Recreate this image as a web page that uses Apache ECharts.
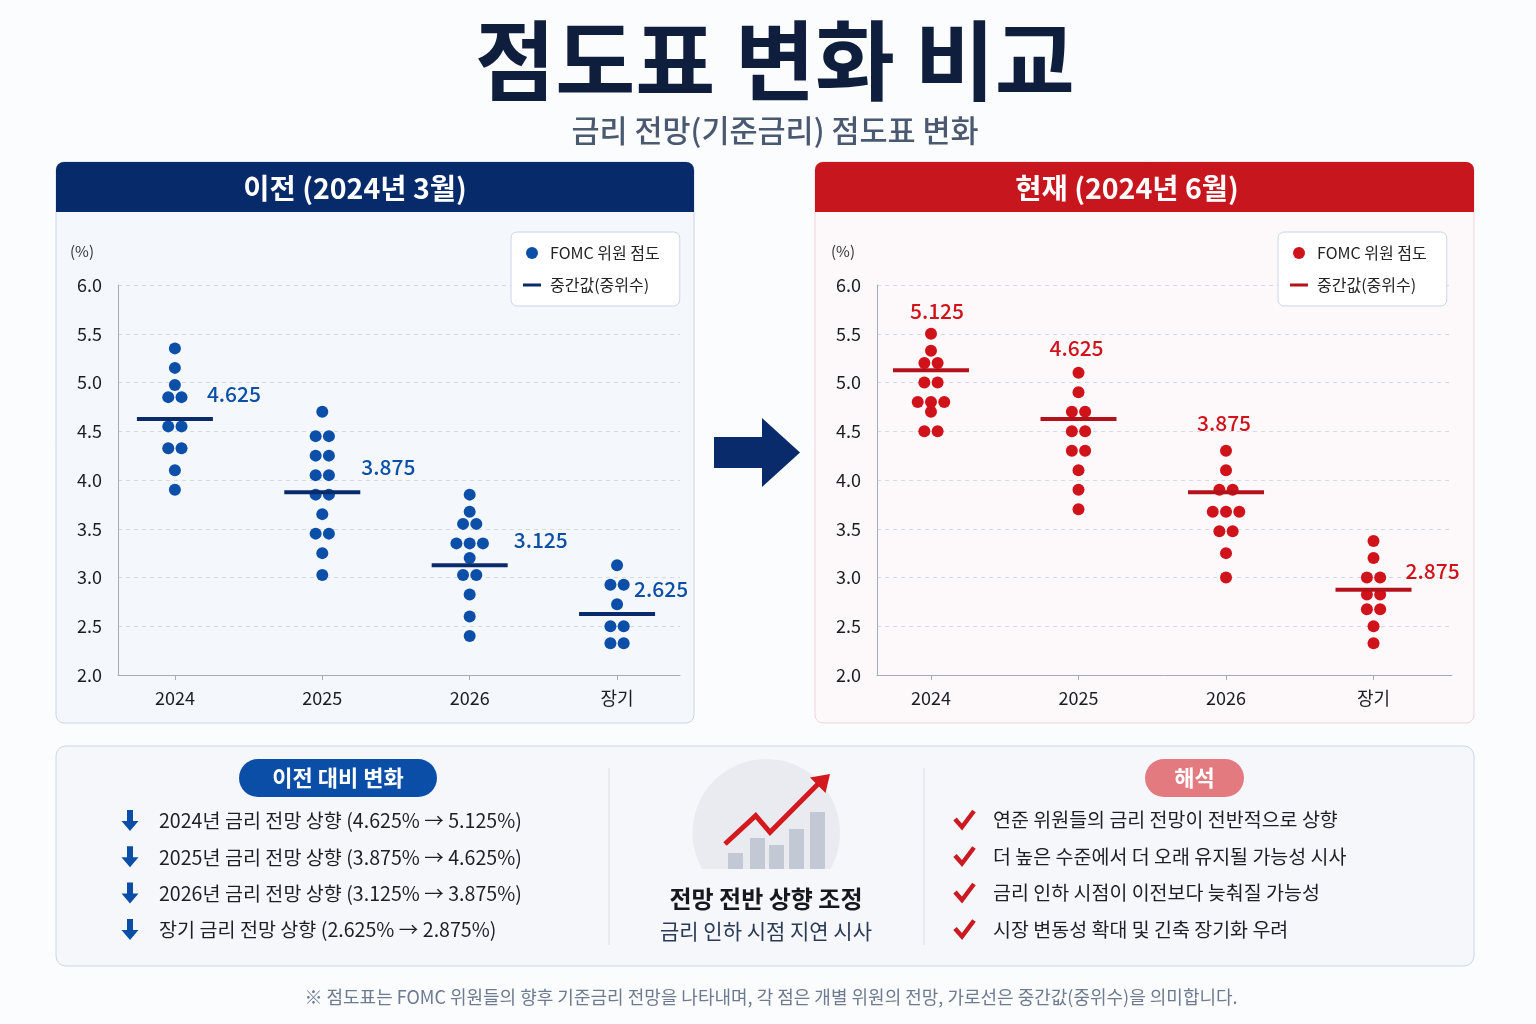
<!DOCTYPE html>
<html>
<head>
<meta charset="utf-8">
<script src="https://cdn.jsdelivr.net/npm/echarts@6/dist/echarts.min.js"></script>
<style>
html,body{margin:0;padding:0;background:#fbfcfe;}
#c{width:1536px;height:1024px;}
</style>
</head>
<body>
<div id="c"></div>
<script>
// ---------------- DATA ----------------
const categories = ['2024', '2025', '2026', '장기'];

// 이전 (2024년 3월) dots per category
const prev2024 = [5.35, 5.15, 4.975, 4.85, 4.85, 4.55, 4.55, 4.325, 4.325, 4.1, 3.9];
const prev2025 = [4.7, 4.45, 4.45, 4.25, 4.25, 4.05, 4.05, 3.85, 3.85, 3.65, 3.45, 3.45, 3.25, 3.025];
const prev2026 = [3.85, 3.675, 3.55, 3.55, 3.35, 3.35, 3.35, 3.2, 3.025, 3.025, 2.825, 2.6, 2.4];
const prevLong = [3.125, 2.925, 2.925, 2.725, 2.5, 2.5, 2.325, 2.325];
const prevMedians = [4.625, 3.875, 3.125, 2.625];

// 현재 (2024년 6월) dots per category
const curr2024 = [5.5, 5.325, 5.2, 5.2, 5.0, 5.0, 4.8, 4.8, 4.8, 4.7, 4.5, 4.5];
const curr2025 = [5.1, 4.9, 4.7, 4.7, 4.5, 4.5, 4.3, 4.3, 4.1, 3.9, 3.7];
const curr2026 = [4.3, 4.1, 3.9, 3.9, 3.675, 3.675, 3.675, 3.475, 3.475, 3.25, 3.0];
const currLong = [3.375, 3.2, 3.0, 3.0, 2.825, 2.825, 2.675, 2.675, 2.5, 2.325];
const currMedians = [5.125, 4.625, 3.875, 2.875];

const yMin = 2.0, yMax = 6.0, yStep = 0.5;

const changeItems = [
  '2024년 금리 전망 상향 (4.625% → 5.125%)',
  '2025년 금리 전망 상향 (3.875% → 4.625%)',
  '2026년 금리 전망 상향 (3.125% → 3.875%)',
  '장기 금리 전망 상향 (2.625% → 2.875%)'
];
const interpretItems = [
  '연준 위원들의 금리 전망이 전반적으로 상향',
  '더 높은 수준에서 더 오래 유지될 가능성 시사',
  '금리 인하 시점이 이전보다 늦춰질 가능성',
  '시장 변동성 확대 및 긴축 장기화 우려'
];

// ---------------- STYLE ----------------
const FONT = "'Noto Sans CJK KR', 'Noto Sans', sans-serif";
const BLUE = '#0b4fa8', NAVY = '#0a2b6b', RED = '#d0121b', DARKRED = '#b3121a';
const LINE_ICON = 'path://M0,0H0.01V0.01H0Z M0,4.5H18V7.5H0Z M0,12H0.01V12.01H0Z';
const prevLabelOffsets = [[32, -25], [39, -25], [44, -25], [17, -25]];
const currLabelAnchor = ['top', 'top', 'top', 'median'];
const currLabelOffsets = [[6, -23], [-2, -25], [-2, -28], [32, -19]];
const currLabelAlign = ['center', 'center', 'center', 'left'];
const SWARM_STEP = 0.09;

const prevDots = [prev2024, prev2025, prev2026, prevLong];
const currDots = [curr2024, curr2025, curr2026, currLong];

function swarm(groups) {
  const out = [];
  groups.forEach((vals, ci) => {
    const counts = {};
    vals.forEach(v => { counts[v] = (counts[v] || 0) + 1; });
    const seen = {};
    vals.forEach(v => {
      seen[v] = (seen[v] === undefined) ? 0 : seen[v] + 1;
      out.push([ci + (seen[v] - (counts[v] - 1) / 2) * SWARM_STEP, v]);
    });
  });
  return out;
}

function xAxisFor(gi, min, max) {
  return {
    type: 'value', gridIndex: gi, min: min, max: max,
    axisLine: {show: true, onZero: false, lineStyle: {color: '#a3acba', width: 1}},
    axisTick: {show: true, customValues: [0, 1, 2, 3], length: 5, lineStyle: {color: '#a3acba'}},
    axisLabel: {customValues: [0, 1, 2, 3], formatter: v => categories[Math.round(v)],
      fontSize: 18, color: '#1a1d23', fontFamily: FONT, margin: 14},
    splitLine: {show: false}
  };
}
function yAxisFor(gi, padRight) {
  return {
    type: 'value', gridIndex: gi, min: yMin, max: yMax, interval: yStep,
    name: '(%)', nameLocation: 'end', nameGap: 26,
    nameTextStyle: {fontSize: 15, color: '#333', fontFamily: FONT, align: 'right', padding: [0, padRight, 0, 0]},
    axisLine: {show: true, onZero: false, lineStyle: {color: '#a3acba'}},
    axisTick: {show: false},
    axisLabel: {formatter: v => v.toFixed(1), fontSize: 18, color: '#1a1d23', fontFamily: FONT, margin: 16},
    splitLine: {show: true, lineStyle: {color: '#d3dae6', type: [4, 4]}}
  };
}

function legendFor(left, dotColor, lineColor) {
  return {
    left: left, top: 232, orient: 'vertical', selectedMode: false,
    itemWidth: 18, itemHeight: 12, itemGap: 12,
    padding: [11, 20, 11, 12],
    backgroundColor: '#ffffff', borderColor: '#c9d6ea', borderWidth: 1, borderRadius: 6,
    textStyle: {fontSize: 16, color: '#222', lineHeight: 20, fontFamily: FONT, padding: [0, 0, 0, 4]},
    data: [
      {name: 'FOMC 위원 점도', icon: 'circle', itemStyle: {color: dotColor}},
      {name: '중간값(중위수)', icon: LINE_ICON, itemStyle: {color: lineColor}}
    ]
  };
}

// ---------------- GRAPHICS (panels & text) ----------------
const g = [];
function txt(x, y, text, font, fill, align) {
  g.push({type: 'text', x: x, y: y, z: 5,
    style: {text: text, font: font, fill: fill, align: align || 'center', verticalAlign: 'middle'}});
}
function rect(x, y, w, h, r, fill, stroke, z) {
  g.push({type: 'rect', z: z === undefined ? -10 : z, shape: {x: x, y: y, width: w, height: h, r: r},
    style: {fill: fill, stroke: stroke || null, lineWidth: stroke ? 1 : 0}});
}

// titles
txt(775, 61, '점도표 변화 비교', `bold 87px ${FONT}`, '#0f1e3d');
txt(775, 130, '금리 전망(기준금리) 점도표 변화', `500 30.5px ${FONT}`, '#4b5970');

// left panel
rect(56, 162, 638, 561, 8, '#f4f7fc', '#c9d6ea');
rect(56, 162, 638, 50, [8, 8, 0, 0], '#062a6a', null, -9);
txt(355, 188, '이전 (2024년 3월)', `bold 28.5px ${FONT}`, '#ffffff');
// right panel
rect(815, 162, 659, 561, 8, '#fdf8f9', '#f1d3d7');
rect(815, 162, 659, 50, [8, 8, 0, 0], '#c8161e', null, -9);
txt(1127, 188, '현재 (2024년 6월)', `bold 28.5px ${FONT}`, '#ffffff');

// arrow between charts
g.push({type: 'polygon', z: 5, shape: {points: [[714, 437], [762, 437], [762, 418], [800, 452.5], [762, 487], [762, 468], [714, 468]]},
  style: {fill: NAVY}});

// bottom panel
rect(56, 746, 1418, 220, 10, '#f5f7fb', '#ccd7e8');
g.push({type: 'line', z: -5, shape: {x1: 609, y1: 768, x2: 609, y2: 945}, style: {stroke: '#d9dee7', lineWidth: 1}});
g.push({type: 'line', z: -5, shape: {x1: 924, y1: 768, x2: 924, y2: 945}, style: {stroke: '#d9dee7', lineWidth: 1}});

// left section
rect(239, 759, 198, 38, 19, '#0b4ea8', null, 1);
txt(338, 778, '이전 대비 변화', `bold 22px ${FONT}`, '#ffffff');
changeItems.forEach((t, i) => {
  const y = 821 + i * 36.3;
  g.push({type: 'polygon', z: 5, shape: {points: [[127, y - 11], [133, y - 11], [133, y], [138.5, y], [130, y + 10], [121.5, y], [127, y]]},
    style: {fill: '#0b4ea8'}});
  txt(159, y, t, `19.6px ${FONT}`, '#1c1f26', 'left');
});

// center section icon
(function () {
  const cx = 766.3, cy = 832.7, r = 73.7, cut = 869;
  const pts = [];
  const a0 = Math.asin((cut - cy) / r);
  for (let k = 0; k <= 80; k++) {
    const a = a0 - (Math.PI + 2 * a0) * k / 80;
    pts.push([cx + r * Math.cos(a), cy + r * Math.sin(a)]);
  }
  g.push({type: 'polygon', z: -4, shape: {points: pts}, style: {fill: '#e9ebf0'}});
  const bars = [[728, 853], [750, 838], [769, 845], [789, 829], [810, 812]];
  bars.forEach(b => g.push({type: 'rect', z: -3, shape: {x: b[0], y: b[1], width: 15, height: cut - b[1]}, style: {fill: '#c3c9d4'}}));
  g.push({type: 'polyline', z: -2, shape: {points: [[725, 844], [755.7, 815.7], [770, 832.3], [820, 782]]},
    style: {stroke: '#d3181e', lineWidth: 5, fill: null, lineJoin: 'miter'}});
  g.push({type: 'polygon', z: -2, shape: {points: [[810, 777.5], [830, 774], [825.5, 793]]}, style: {fill: '#d3181e'}});
})();
txt(766, 899, '전망 전반 상향 조정', `bold 24px ${FONT}`, '#15181f');
txt(766, 931, '금리 인하 시점 지연 시사', `21px ${FONT}`, '#2b3a55');

// right section
rect(1145, 759, 99, 38, 19, '#e27a80', null, 1);
txt(1194.5, 778, '해석', `bold 22px ${FONT}`, '#ffffff');
interpretItems.forEach((t, i) => {
  const y = 820 + i * 36.5;
  g.push({type: 'polyline', z: 5, shape: {points: [[955, y - 1], [962, y + 7], [974, y - 9]]},
    style: {stroke: '#cc1a22', lineWidth: 4.5, fill: null}});
  txt(993, y, t, `19.5px ${FONT}`, '#1c1f26', 'left');
});

// footer
txt(771, 997, '※ 점도표는 FOMC 위원들의 향후 기준금리 전망을 나타내며, 각 점은 개별 위원의 전망, 가로선은 중간값(중위수)을 의미합니다.',
  `18px ${FONT}`, '#6e7a90');

// ---------------- SERIES ----------------
const prevLabelData = categories.map((c, i) => ({
  value: [i, prevMedians[i]],
  label: {formatter: prevMedians[i].toFixed(3), offset: prevLabelOffsets[i], align: 'left'}
}));
const currLabelData = categories.map((c, i) => ({
  value: [i, currLabelAnchor[i] === 'top' ? Math.max.apply(null, currDots[i]) : currMedians[i]],
  label: {formatter: currMedians[i].toFixed(3), offset: currLabelOffsets[i], align: currLabelAlign[i]}
}));

const option = {
  animation: false,
  backgroundColor: '#fbfcfe',
  textStyle: {fontFamily: FONT},
  graphic: {elements: g},
  legend: [legendFor(511, BLUE, NAVY), legendFor(1278, RED, DARKRED)],
  grid: [
    {left: 118, top: 285, width: 562, height: 390},
    {left: 877, top: 285, width: 575, height: 390}
  ],
  xAxis: [xAxisFor(0, -0.386, 3.427), xAxisFor(1, -0.366, 3.532)],
  yAxis: [yAxisFor(0, 24), yAxisFor(1, 22)],
  series: [
    {name: 'FOMC 위원 점도', type: 'scatter', xAxisIndex: 0, yAxisIndex: 0, symbol: 'circle', symbolSize: 12,
      itemStyle: {color: BLUE, opacity: 1}, data: swarm(prevDots), z: 2},
    {name: '중간값(중위수)', type: 'scatter', xAxisIndex: 0, yAxisIndex: 0, symbol: 'rect', symbolSize: [76, 4],
      itemStyle: {color: NAVY, opacity: 1}, data: prevMedians.map((m, i) => [i, m]), z: 3},
    {name: 'prevLabels', type: 'scatter', xAxisIndex: 0, yAxisIndex: 0, symbolSize: 1, silent: true,
      itemStyle: {color: 'rgba(0,0,0,0)', opacity: 1}, z: 4,
      label: {show: true, position: 'inside', fontSize: 21, color: BLUE, fontFamily: FONT, fontWeight: 500, verticalAlign: 'middle'},
      data: prevLabelData},
    {name: 'FOMC 위원 점도', type: 'scatter', xAxisIndex: 1, yAxisIndex: 1, symbol: 'circle', symbolSize: 12,
      itemStyle: {color: RED, opacity: 1}, data: swarm(currDots), z: 2},
    {name: '중간값(중위수)', type: 'scatter', xAxisIndex: 1, yAxisIndex: 1, symbol: 'rect', symbolSize: [76, 4],
      itemStyle: {color: DARKRED, opacity: 1}, data: currMedians.map((m, i) => [i, m]), z: 3},
    {name: 'currLabels', type: 'scatter', xAxisIndex: 1, yAxisIndex: 1, symbolSize: 1, silent: true,
      itemStyle: {color: 'rgba(0,0,0,0)', opacity: 1}, z: 4,
      label: {show: true, position: 'inside', fontSize: 21, color: RED, fontFamily: FONT, fontWeight: 500, verticalAlign: 'middle'},
      data: currLabelData}
  ]
};

const chart = echarts.init(document.getElementById('c'), null, {renderer: 'canvas'});
chart.setOption(option);
</script>
</body>
</html>
